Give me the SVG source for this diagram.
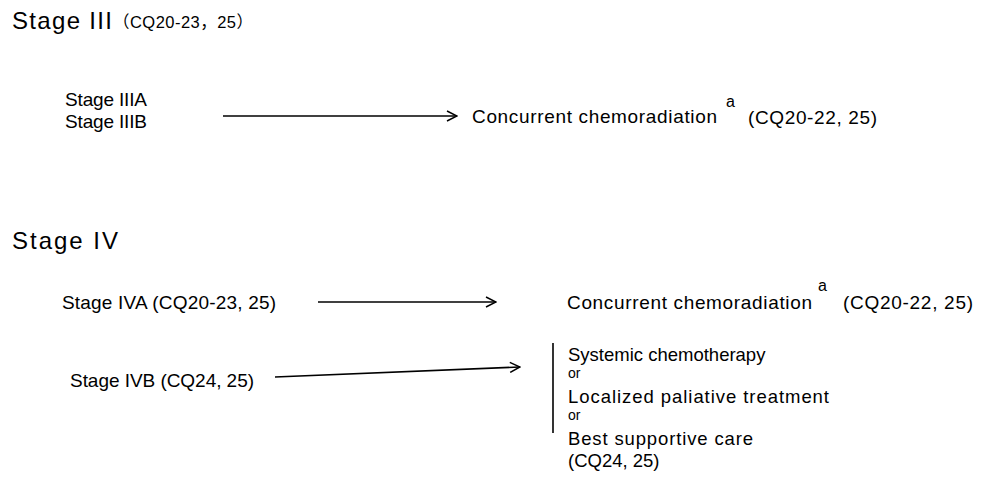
<svg xmlns="http://www.w3.org/2000/svg" width="987" height="479" viewBox="0 0 987 479">
<style>
text{font-family:"Liberation Sans",Arial,"Noto Sans CJK JP",sans-serif;fill:#000}
.h{font-size:24px}
.hs{font-size:16.5px}
.t{font-size:19px}
.p{font-size:18.5px}
.s{font-size:16px}
.o{font-size:14px}
.c{stroke:#000;stroke-width:1.6;fill:none}
</style>
<defs>
<marker id="ah" viewBox="0 0 12 12" refX="11" refY="6" markerWidth="12" markerHeight="12" markerUnits="userSpaceOnUse" orient="auto">
<path d="M1,1 L11,6 L1,11" fill="none" stroke="#000" stroke-width="1.5"/>
</marker>
</defs>
<rect width="987" height="479" fill="#fff"/>
<g id="title3"><text x="12" y="29" class="h" textLength="100">Stage III</text><text x="113" y="28" class="hs" textLength="140">（CQ20-23，25）</text></g>
<g id="stage3"><text x="65" y="106" class="t" textLength="82">Stage IIIA</text><text x="65" y="128" class="t" textLength="82">Stage IIIB</text></g>
<g id="ccrt1"><text x="472" y="123" class="t" textLength="245">Concurrent chemoradiation</text><text x="726" y="107" class="s">a</text><text x="748" y="124" class="t" textLength="129">(CQ20-22, 25)</text></g>
<g id="title4"><text x="12" y="249" class="h" textLength="106">Stage IV</text></g>
<g id="stage4a"><text x="62" y="309" class="t" textLength="214">Stage IVA  (CQ20-23, 25)</text></g>
<g id="ccrt2"><text x="567" y="309" class="t" textLength="245">Concurrent chemoradiation</text><text x="818" y="291" class="s">a</text><text x="843" y="309" class="t" textLength="130">(CQ20-22, 25)</text></g>
<g id="stage4b"><text x="70" y="387" class="t" textLength="184">Stage IVB  (CQ24, 25)</text></g>
<g id="options">
<line x1="553" y1="343" x2="553" y2="433" stroke="#000" stroke-width="1.6"/>
<text x="568" y="361" class="p">Systemic chemotherapy</text>
<text x="568" y="378" class="o">or</text>
<text x="568" y="403" class="p" textLength="261">Localized paliative treatment</text>
<text x="568" y="420" class="o">or</text>
<text x="568" y="445" class="p" textLength="185">Best supportive care</text>
<text x="568" y="467" class="p">(CQ24, 25)</text>
</g>
<g id="connectors">
<line class="c" x1="223" y1="116" x2="457" y2="116" marker-end="url(#ah)"/>
<line class="c" x1="318" y1="302" x2="496" y2="302" marker-end="url(#ah)"/>
<line class="c" x1="275" y1="377" x2="520" y2="367" marker-end="url(#ah)"/>
</g>
</svg>
